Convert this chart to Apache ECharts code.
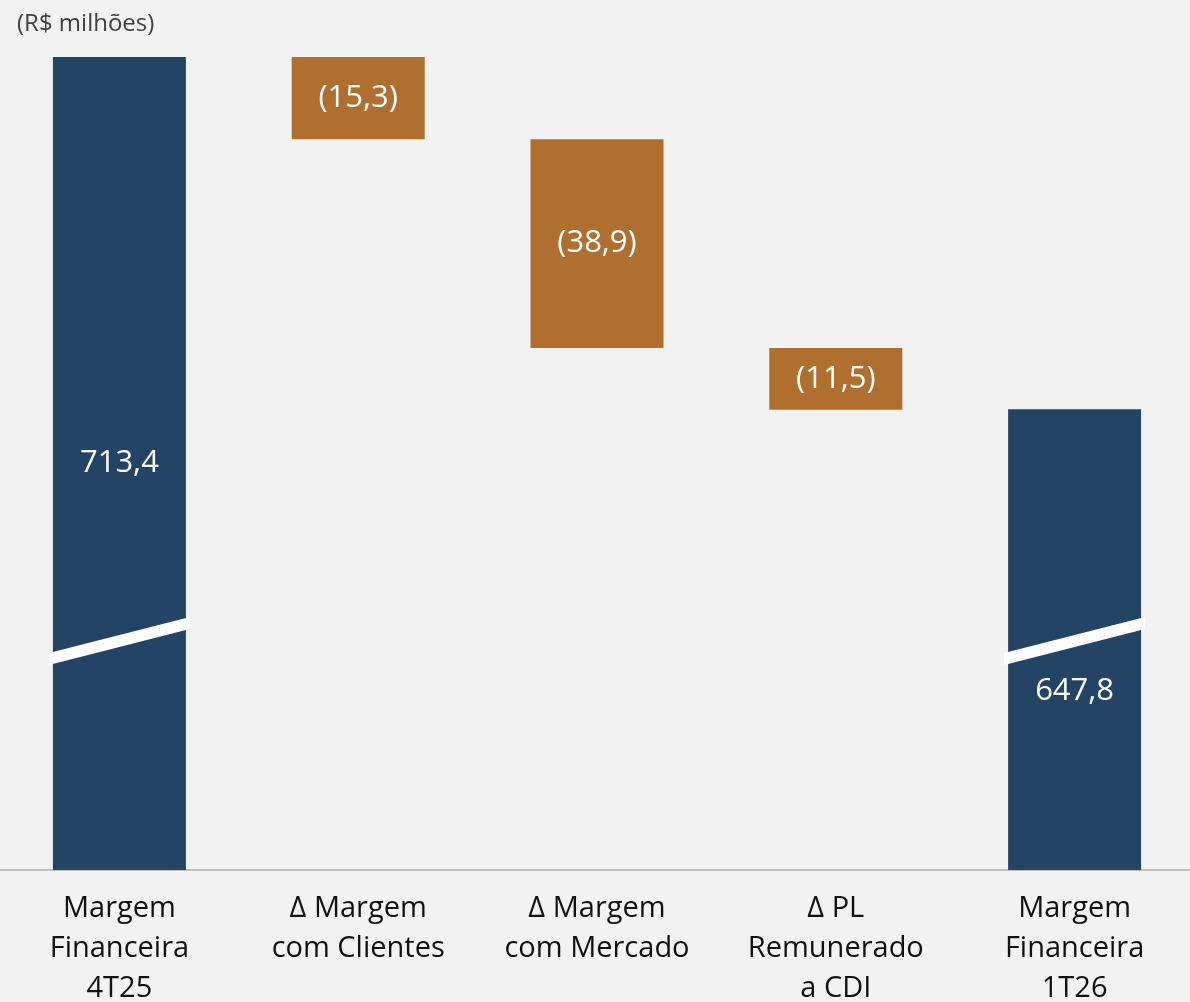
<!DOCTYPE html>
<html><head><meta charset="utf-8">
<script src="https://cdn.jsdelivr.net/npm/echarts@6/dist/echarts.min.js"></script>
<style>html,body{margin:0;padding:0;background:#f2f2f2}#c{width:1190px;height:1002px}</style>
</head><body><div id="c"></div>
<script>
const categories = ['Margem\nFinanceira\n4T25', 'Δ Margem\ncom Clientes', 'Δ Margem\ncom Mercado', 'Δ PL\nRemunerado\na CDI', 'Margem\nFinanceira\n1T26'];
const startTotal = 713.4;
const deltas = [-15.3, -38.9, -11.5];
const endTotal = 647.8;
const deltaLabels = ['(15,3)', '(38,9)', '(11,5)'];
const totalLabels = ['713,4', '647,8'];
const breakLow = 601.3, breakHigh = 608.0;

// build waterfall helpers
const totals = [startTotal, null, null, null, endTotal];
const base = [null];
const change = [null];
let run = startTotal;
deltas.forEach(d => { const next = run + d; base.push(Math.min(run, next)); change.push(Math.abs(d)); run = next; });
base.push(null); change.push(null);

const navy = '#244466', orange = '#b06f2e';
const font = '"Open Sans", "Noto Sans", sans-serif';
const chart = echarts.init(document.getElementById('c'));
chart.setOption({
  backgroundColor: '#f2f2f2',
  animation: false,
  title: { text: '(R$ milhões)', left: 12, top: 7, textStyle: { color: '#404040', fontSize: 24, fontWeight: 'normal', fontFamily: font } },
  grid: { left: 0, right: -4, top: 57, bottom: 132, outerBoundsMode: 'none', containLabel: false },
  xAxis: {
    type: 'category', data: categories,
    axisLine: { lineStyle: { color: '#bfbfbf', width: 2 } },
    axisTick: { show: false },
    axisLabel: { color: '#111', fontSize: 29, fontFamily: font, lineHeight: 40, margin: 19, interval: 0 }
  },
  yAxis: { type: 'value', min: 562, max: 713.4, show: false, splitLine: { show: false } },
  series: [
    { type: 'bar', stack: 'w', data: base, barWidth: 133, itemStyle: { color: 'transparent' }, silent: true },
    { type: 'bar', stack: 'w', data: change, barWidth: 133, itemStyle: { color: orange },
      label: { show: true, position: 'inside', color: '#fff', fontSize: 31, fontFamily: font,
        formatter: p => deltaLabels[p.dataIndex - 1] } },
    { type: 'bar', stack: 'w', data: totals, barWidth: 133, itemStyle: { color: navy },
      label: { show: true, position: 'inside', color: '#fff', fontSize: 31, fontFamily: font,
        formatter: p => p.dataIndex === 0 ? totalLabels[0] : totalLabels[1] } ,
      labelLayout: p => p.dataIndex === 4 ? { dy: 52 } : {} },
    { type: 'custom', z: 10, silent: true,
      data: totals.map((v, i) => v == null ? null : [i]).filter(Boolean),
      renderItem: (params, api) => {
        const i = api.value(0);
        const w = api.size([1, 0])[0] * 133 / 238.75;
        const p0 = api.coord([i, breakLow]);
        const p1 = api.coord([i, breakHigh]);
        const xl = p0[0] - w / 2 - 4, xr = p0[0] + w / 2 + 4;
        const h = 6;
        return { type: 'polygon', shape: { points: [[xl, p0[1] - h], [xr, p1[1] - h], [xr, p1[1] + h], [xl, p0[1] + h]] },
          style: { fill: '#ffffff' } };
      }
    }
  ]
});
</script></body></html>
